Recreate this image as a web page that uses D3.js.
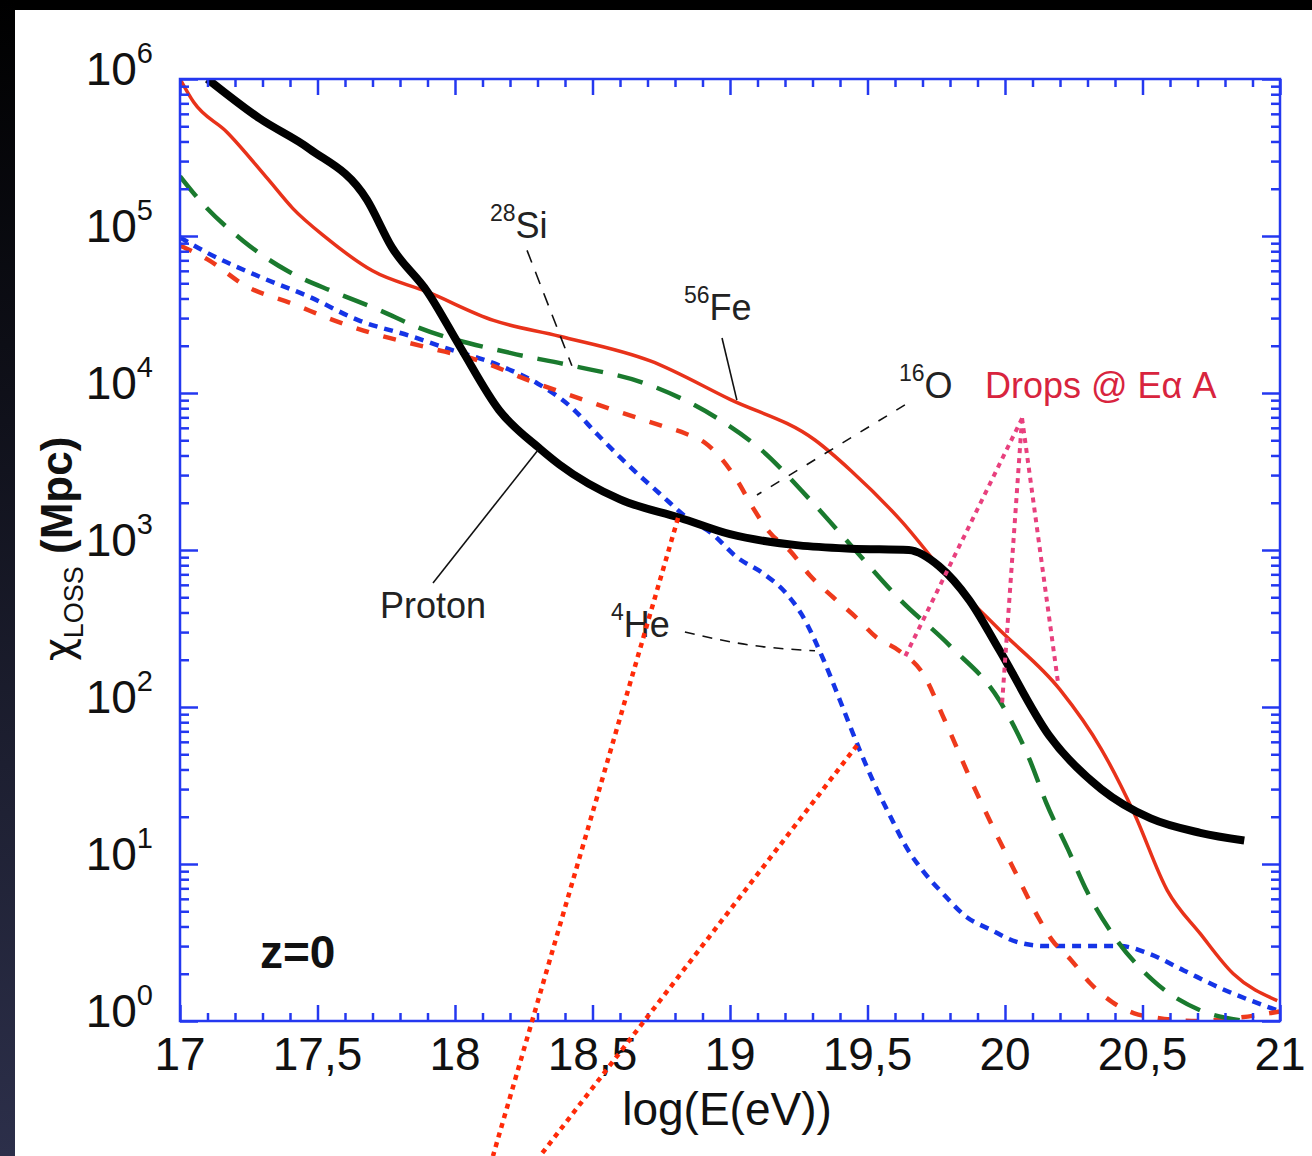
<!DOCTYPE html>
<meta charset="utf-8">
<style>
body { margin: 0; background: #000; }
text { font-family: "Liberation Sans", Arial, sans-serif; }
</style>
<body>
<script src="https://d3js.org/d3.v7.min.js"></script>
<script>

const width = 1312
const height = 1156

// energy loss length vs log(E)
const protonE = [17.1, 17.29, 17.47, 17.68, 17.77, 17.9, 18.02, 18.16, 18.31, 18.38, 18.6, 18.82, 19.0, 19.25, 19.44, 19.65, 19.76, 19.87, 19.98, 20.16, 20.35, 20.53, 20.71, 20.87]
const protonX = [1e6, 5.6e5, 3.6e5, 1.7e5, 8.5e4, 4.4e4, 1.95e4, 7.8e3, 4.4e3, 3.5e3, 2.1e3, 1.6e3, 1.26e3, 1.07e3, 1.02e3, 1.0e3, 790, 480, 230, 66, 30, 19.5, 15.8, 14.1]

const heE = [17.0, 17.1, 17.29, 17.47, 17.65, 17.84, 17.96, 18.16, 18.3, 18.42, 18.52, 18.6, 18.75, 18.855, 18.93, 19.025, 19.12, 19.2, 19.26, 19.34, 19.4, 19.47, 19.53, 19.59, 19.64, 19.7, 19.77, 19.86, 19.95, 20.04, 20.15, 20.42, 20.52, 20.65, 20.79, 20.99]
const heX = [9.8e4, 7.8e4, 5.5e4, 4.1e4, 2.9e4, 2.3e4, 1.95e4, 1.5e4, 1.15e4, 8.2e3, 5.4e3, 3.9e3, 2.24e3, 1.55e3, 1.29e3, 900, 710, 540, 390, 200, 110, 54, 31, 19, 12.9, 9.1, 6.6, 4.6, 3.8, 3.2, 3.0, 3.0, 2.7, 2.1, 1.6, 1.17]

const oE = [17.0, 17.1, 17.24, 17.41, 17.56, 17.7, 17.9, 18.09, 18.27, 18.53, 18.75, 18.84, 18.91, 18.97, 19.03, 19.08, 19.145, 19.22, 19.29, 19.375, 19.46, 19.53, 19.62, 19.7, 19.78, 19.88, 19.96, 20.04, 20.12, 20.17, 20.24, 20.31, 20.39, 20.47, 20.55, 20.7, 20.85, 21.0]
const oX = [8.7e4, 7.1e4, 4.8e4, 3.7e4, 2.9e4, 2.4e4, 1.95e4, 1.6e4, 1.2e4, 8.3e3, 6.2e3, 5.5e3, 4.8e3, 3.8e3, 2.7e3, 1.9e3, 1.29e3, 980, 690, 500, 370, 280, 225, 165, 83, 33, 16.6, 8.7, 4.6, 3.3, 2.45, 1.74, 1.32, 1.12, 1.05, 1.0, 1.05, 1.15]

const siE = [17.0, 17.07, 17.23, 17.39, 17.56, 17.72, 17.87, 18.2, 18.42, 18.71, 18.96, 19.11, 19.29, 19.44, 19.62, 19.8, 19.98, 20.09, 20.15, 20.23, 20.3, 20.39, 20.54, 20.71, 20.87]
const siX = [2.4e5, 1.7e5, 9.3e4, 6.0e4, 4.4e4, 3.4e4, 2.6e4, 1.8e4, 1.5e4, 1.12e4, 6.8e3, 4.4e3, 2.1e3, 1.07e3, 480, 245, 110, 46, 24.5, 12.3, 6.6, 3.6, 1.8, 1.17, 1.0]

const feE = [17.0, 17.05, 17.17, 17.32, 17.41, 17.53, 17.7, 17.9, 18.14, 18.38, 18.71, 19.0, 19.31, 19.44, 19.62, 19.8, 19.98, 20.2, 20.35, 20.47, 20.59, 20.71, 20.83, 20.99]
const feX = [1e6, 7.1e5, 4.6e5, 2.3e5, 1.5e5, 9.8e4, 6.0e4, 4.4e4, 2.9e4, 2.3e4, 1.6e4, 9.1e3, 5.0e3, 3.2e3, 1.55e3, 650, 310, 129, 54, 21, 6.8, 3.6, 2.0, 1.35]

// axis ticks
const xMajor = [17, 17.5, 18, 18.5, 19, 19.5, 20, 20.5, 21]
const xLabels = ['17', '17,5', '18', '18,5', '19', '19,5', '20', '20,5', '21']
const yMajor = [1, 10, 100, 1e3, 1e4, 1e5, 1e6]
const yExp = ['0', '1', '2', '3', '4', '5', '6']

const x = d3.scaleLinear().domain([17, 21]).range([180, 1280])
const y = d3.scaleLog().domain([1, 1e6]).range([1021, 79])

const xMinor = d3.range(17, 21.001, 0.1).map(v => +v.toFixed(1)).filter(v => !xMajor.includes(v))
const yMinor = []
for (let d = 0; d < 6; d++) for (let k = 2; k < 10; k++) yMinor.push(k * Math.pow(10, d))

const svg = d3.select('body').append('svg')
  .attr('width', width)
  .attr('height', height)

// dark frame and page
const defs = svg.append('defs')
const grad = defs.append('linearGradient').attr('id', 'side').attr('x1', 0).attr('x2', 0).attr('y1', 0).attr('y2', 1)
grad.append('stop').attr('offset', 0).attr('stop-color', '#000')
grad.append('stop').attr('offset', 1).attr('stop-color', '#2c2f4a')
svg.append('rect').attr('width', width).attr('height', height).attr('fill', '#000')
svg.append('rect').attr('width', 15).attr('height', height).attr('fill', 'url(#side)')
svg.append('rect').attr('x', 15).attr('y', 10).attr('width', width - 15).attr('height', height - 10).attr('fill', '#fff')

defs.append('clipPath').attr('id', 'plot')
  .append('rect').attr('x', 180).attr('y', 79).attr('width', 1100).attr('height', 942)

const line = d3.line()
  .x(d => x(d[0]))
  .y(d => y(d[1]))
  .curve(d3.curveMonotoneX)

const series = [
  { E: heE, X: heX, color: '#1534e6', w: 4.5, dash: '9 7' },
  { E: oE, X: oX, color: '#ee3a1c', w: 4.5, dash: '13 15' },
  { E: siE, X: siX, color: '#1a7a2e', w: 4.5, dash: '26 15' },
  { E: feE, X: feX, color: '#e8321a', w: 3.5, dash: null },
  { E: protonE, X: protonX, color: '#000', w: 8, dash: null }
]

const curves = svg.append('g').attr('clip-path', 'url(#plot)')
curves.selectAll('path')
  .data(series)
  .enter()
  .append('path')
  .attr('d', s => line(s.E.map((e, i) => [e, s.X[i]])))
  .attr('fill', 'none')
  .attr('stroke', s => s.color)
  .attr('stroke-width', s => s.w)
  .attr('stroke-dasharray', s => s.dash)

// axes: frame with inward ticks on all four sides
const blue = '#2438f0'
function tickAxis(axis, transform) {
  const g = svg.append('g').attr('transform', transform).call(axis)
  g.select('.domain').remove()
  g.selectAll('text').remove()
  g.selectAll('line').attr('stroke', blue).attr('stroke-width', 2.5)
  return g
}
tickAxis(d3.axisBottom(x).tickValues(xMinor).tickSize(-8), 'translate(0,1021)')
tickAxis(d3.axisBottom(x).tickValues(xMajor).tickSize(-16), 'translate(0,1021)')
tickAxis(d3.axisTop(x).tickValues(xMinor).tickSize(-8), 'translate(0,79)')
tickAxis(d3.axisTop(x).tickValues(xMajor).tickSize(-16), 'translate(0,79)')
tickAxis(d3.axisLeft(y).tickValues(yMinor).tickSize(-9), 'translate(180,0)')
tickAxis(d3.axisLeft(y).tickValues(yMajor).tickSize(-18), 'translate(180,0)')
tickAxis(d3.axisRight(y).tickValues(yMinor).tickSize(-9), 'translate(1280,0)')
tickAxis(d3.axisRight(y).tickValues(yMajor).tickSize(-18), 'translate(1280,0)')
svg.append('rect')
  .attr('x', 180).attr('y', 79).attr('width', 1100).attr('height', 942)
  .attr('fill', 'none').attr('stroke', blue).attr('stroke-width', 2.5)

// tick labels
svg.selectAll('.xlab')
  .data(xMajor)
  .enter()
  .append('text')
  .attr('class', 'xlab')
  .attr('x', d => x(d))
  .attr('y', 1070)
  .attr('text-anchor', 'middle')
  .attr('font-size', 46)
  .attr('fill', '#111')
  .text((d, i) => xLabels[i])

const ylab = svg.selectAll('.ylab')
  .data(yMajor)
  .enter()
  .append('text')
  .attr('class', 'ylab')
  .attr('x', 153)
  .attr('y', d => y(d) + 6)
  .attr('text-anchor', 'end')
  .attr('font-size', 46)
  .attr('fill', '#111')
ylab.append('tspan').text('10')
ylab.append('tspan').attr('dy', -22).attr('font-size', 29).text((d, i) => yExp[i])

// axis titles
svg.append('text')
  .attr('x', 727).attr('y', 1125)
  .attr('text-anchor', 'middle')
  .attr('font-size', 46)
  .attr('fill', '#111')
  .text('log(E(eV))')

const yt = svg.append('text')
  .attr('transform', 'translate(72,549) rotate(-90)')
  .attr('text-anchor', 'middle')
  .attr('font-size', 44)
  .attr('fill', '#111')
yt.append('tspan').attr('font-family', 'DejaVu Sans').attr('font-size', 40).text('χ')
yt.append('tspan').attr('dy', 11).attr('font-size', 27).text('LOSS')
yt.append('tspan').attr('dy', -11).attr('font-weight', 'bold').text(' (Mpc)')

svg.append('text')
  .attr('x', 260).attr('y', 968)
  .attr('font-size', 46)
  .attr('font-weight', 'bold')
  .attr('fill', '#111')
  .text('z=0')

// curve labels with leader lines (data coordinates)
const leaders = [
  { pts: [[18.262, 8.1e4], [18.425, 1.49e4]], dash: '13 10' },
  { pts: [[18.971, 2.24e4], [19.025, 9.0e3]], dash: null },
  { pts: [[19.636, 8.4e3], [19.098, 2.24e3]], dash: '10 11' },
  { pts: [[17.92, 617], [18.302, 4.34e3]], dash: null },
  { pts: [[18.836, 300], [19.073, 248], [19.309, 228]], dash: '10 8' }
]
svg.selectAll('.leader')
  .data(leaders)
  .enter()
  .append('path')
  .attr('class', 'leader')
  .attr('d', l => d3.line().x(d => x(d[0])).y(d => y(d[1])).curve(d3.curveMonotoneX)(l.pts))
  .attr('fill', 'none')
  .attr('stroke', '#111')
  .attr('stroke-width', 1.6)
  .attr('stroke-dasharray', l => l.dash)

const isoLabels = [
  { sup: '28', name: 'Si', x: 490, y: 238 },
  { sup: '56', name: 'Fe', x: 684, y: 320 },
  { sup: '16', name: 'O', x: 899, y: 398 },
  { sup: '', name: 'Proton', x: 380, y: 618 },
  { sup: '4', name: 'He', x: 611, y: 637 }
]
const iso = svg.selectAll('.iso')
  .data(isoLabels)
  .enter()
  .append('text')
  .attr('class', 'iso')
  .attr('x', d => d.x)
  .attr('y', d => d.y)
  .attr('font-size', 36)
  .attr('fill', '#222')
iso.filter(d => d.sup).append('tspan').attr('dy', -17).attr('font-size', 23).text(d => d.sup)
iso.append('tspan').attr('dy', d => d.sup ? 17 : 0).text(d => d.name)

// "drops" annotation
svg.append('text')
  .attr('x', 985).attr('y', 398)
  .attr('font-size', 36)
  .attr('fill', '#d8243e')
  .text('Drops @ Eα A')

const apex = [20.062, 6.9e3]
const dropEnds = [[19.636, 208], [19.989, 103], [20.193, 142]]
svg.selectAll('.drop')
  .data(dropEnds)
  .enter()
  .append('line')
  .attr('x1', x(apex[0])).attr('y1', y(apex[1]))
  .attr('x2', d => x(d[0])).attr('y2', d => y(d[1]))
  .attr('stroke', '#e8407e')
  .attr('stroke-width', 4)
  .attr('stroke-dasharray', '5 5')

// zoom-out lines running off the bottom
const zoomLines = [
  [[18.811, 1.6e3], [18.138, 0.138]],
  [[19.462, 57], [18.309, 0.138]]
]
svg.selectAll('.zoomline')
  .data(zoomLines)
  .enter()
  .append('line')
  .attr('x1', d => x(d[0][0])).attr('y1', d => y(d[0][1]))
  .attr('x2', d => x(d[1][0])).attr('y2', d => y(d[1][1]))
  .attr('stroke', '#ff2a08')
  .attr('stroke-width', 4.5)
  .attr('stroke-dasharray', '5 5')

</script>
</body>
